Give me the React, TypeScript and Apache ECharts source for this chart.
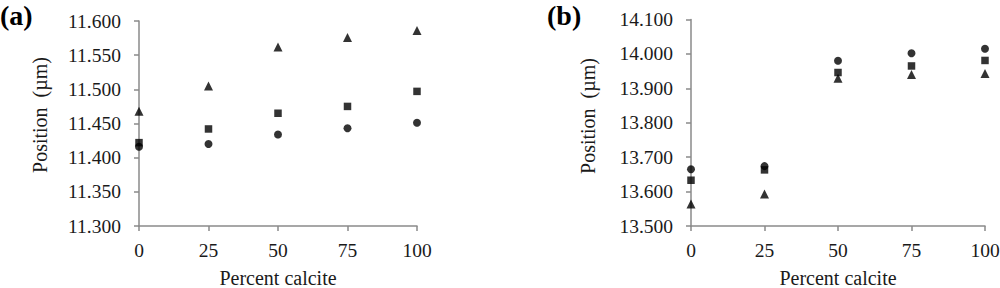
import React, { useEffect, useRef } from "react";
import * as echarts from "echarts";

const percentCalcite = [0, 25, 50, 75, 100];

// Panel (a)
const aTriangle = [11.468, 11.505, 11.562, 11.576, 11.586];
const aSquare = [11.422, 11.442, 11.465, 11.475, 11.497];
const aCircle = [11.416, 11.42, 11.434, 11.443, 11.451];

// Panel (b)
const bCircle = [13.665, 13.674, 13.98, 14.002, 14.015];
const bSquare = [13.633, 13.663, 13.946, 13.965, 13.981];
const bTriangle = [13.564, 13.593, 13.929, 13.94, 13.943];

const aYAxis = { min: 11.3, max: 11.6, interval: 0.05 };
const bYAxis = { min: 13.5, max: 14.1, interval: 0.1 };
const xTicks = { min: 0, max: 100, interval: 25 };

const FONT = "Liberation Serif";
const AXIS_COLOR = "#8a8a8a";
const TEXT_COLOR = "#1a1a1a";

export default function App() {
  const ref = useRef<HTMLDivElement>(null);

  useEffect(() => {
    if (!ref.current) return;
    const chart = echarts.init(ref.current, undefined, { renderer: "svg" });

    const pairs = (ys: number[]) => percentCalcite.map((x, i) => [x, ys[i]]);

    const xAxisBase = (gridIndex: number) => ({
      type: "value",
      gridIndex,
      min: xTicks.min,
      max: xTicks.max,
      interval: xTicks.interval,
      name: "Percent calcite",
      nameLocation: "middle",
      nameGap: 42,
      nameTextStyle: { fontFamily: FONT, fontSize: 20, color: TEXT_COLOR, lineHeight: 20 },
      axisLine: { show: true, lineStyle: { color: AXIS_COLOR, width: 1.5 } },
      axisTick: { show: true, inside: false, length: 5, lineStyle: { color: AXIS_COLOR, width: 1.5 } },
      axisLabel: { fontFamily: FONT, fontSize: 19.5, color: TEXT_COLOR, margin: 14 },
      splitLine: { show: false },
    });

    const yAxisBase = (gridIndex: number, cfg: { min: number; max: number; interval: number }) => ({
      type: "value",
      gridIndex,
      min: cfg.min,
      max: cfg.max,
      interval: cfg.interval,
      axisLine: { show: true, lineStyle: { color: AXIS_COLOR, width: 1.5 } },
      axisTick: { show: true, inside: false, length: 5, lineStyle: { color: AXIS_COLOR, width: 1.5 } },
      axisLabel: {
        fontFamily: FONT,
        fontSize: 19.5,
        color: TEXT_COLOR,
        margin: 18,
        formatter: (v: number) => v.toFixed(3),
      },
      splitLine: { show: false },
    });

    const scatter = (xi: number, data: number[], symbol: string, size: number) => ({
      type: "scatter",
      xAxisIndex: xi,
      yAxisIndex: xi,
      symbol,
      symbolSize: size,
      itemStyle: { color: "#000" },
      data: pairs(data),
    });

    chart.setOption({
      animation: false,
      backgroundColor: "#fff",
      grid: [
        { left: 139, top: 21, right: 583, bottom: 62, containLabel: false, outerBoundsMode: "none" },
        { left: 691, top: 19.5, right: 15, bottom: 62, containLabel: false, outerBoundsMode: "none" },
      ],
      xAxis: [xAxisBase(0), xAxisBase(1)],
      yAxis: [yAxisBase(0, aYAxis), yAxisBase(1, bYAxis)],
      series: [
        scatter(0, aTriangle, "triangle", 9),
        scatter(0, aSquare, "rect", 7.5),
        scatter(0, aCircle, "circle", 8),
        scatter(1, bTriangle, "triangle", 9),
        scatter(1, bSquare, "rect", 7.5),
        scatter(1, bCircle, "circle", 8),
      ],
      graphic: [
        {
          type: "text",
          left: 0,
          top: 1,
          style: { text: "(a)", fontFamily: FONT, fontWeight: "bold", fontSize: 28, fill: "#000" },
        },
        {
          type: "text",
          left: 547,
          top: 1,
          style: { text: "(b)", fontFamily: FONT, fontWeight: "bold", fontSize: 28, fill: "#000" },
        },
        {
          type: "text",
          x: 40,
          y: 115,
          rotation: Math.PI / 2,
          style: {
            text: "Position  (µm)",
            fontFamily: FONT,
            fontSize: 20,
            fill: TEXT_COLOR,
            textAlign: "center",
            textVerticalAlign: "middle",
          },
        },
        {
          type: "text",
          x: 588,
          y: 116,
          rotation: Math.PI / 2,
          style: {
            text: "Position  (µm)",
            fontFamily: FONT,
            fontSize: 20,
            fill: TEXT_COLOR,
            textAlign: "center",
            textVerticalAlign: "middle",
          },
        },
      ],
    });

    return () => chart.dispose();
  }, []);

  return (
    <div
      ref={ref}
      style={{ position: "fixed", left: 0, top: 0, width: 1000, height: 288, background: "#fff" }}
    />
  );
}
